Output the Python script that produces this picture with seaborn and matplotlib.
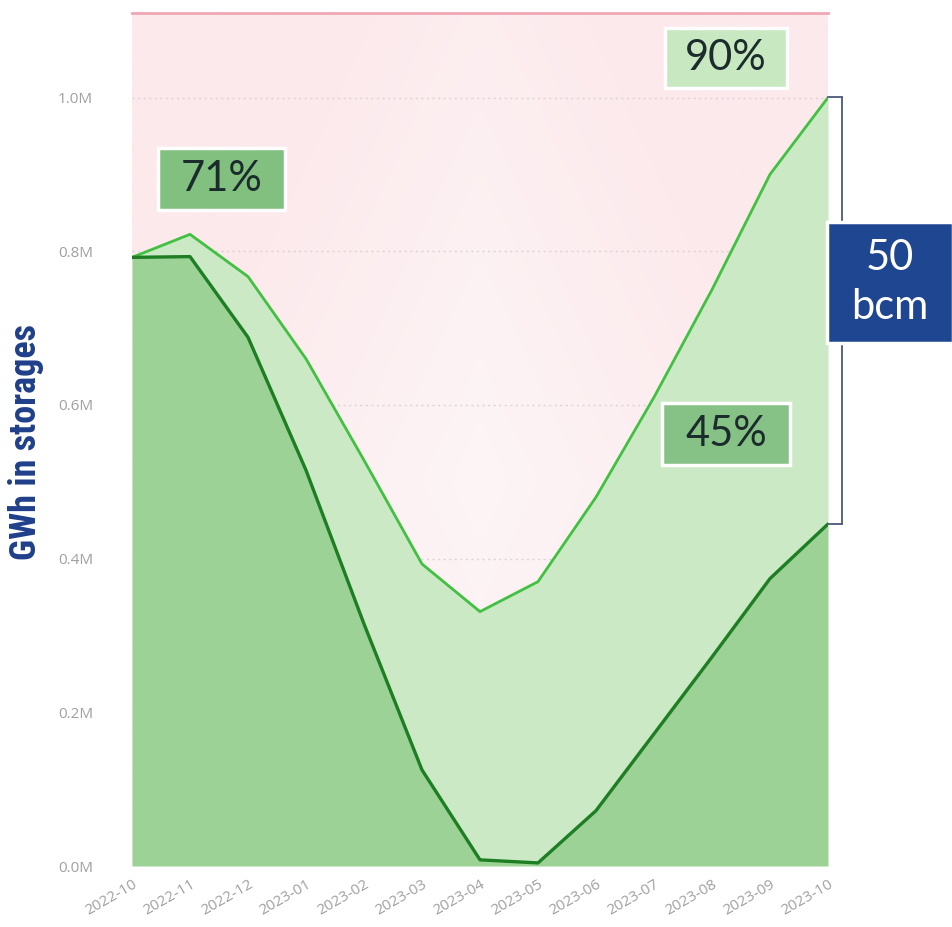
import numpy as np
import pandas as pd
import matplotlib
matplotlib.use("Agg")
import matplotlib.pyplot as plt
import seaborn as sns
from matplotlib.patches import Rectangle
from matplotlib.lines import Line2D
from matplotlib.ticker import FuncFormatter

# monthly storage levels (GWh)
months = ['2022-10', '2022-11', '2022-12', '2023-01', '2023-02', '2023-03', '2023-04',
          '2023-05', '2023-06', '2023-07', '2023-08', '2023-09', '2023-10']
upper_gwh = [792000, 822000, 767000, 660000, 528000, 393000, 331000,
             370000, 480000, 610000, 750000, 900000, 1000000]
lower_gwh = [792000, 793000, 688000, 515000, 315000, 125000, 8000,
             4000, 72000, 172000, 272000, 374000, 445000]

df = pd.DataFrame({'month': months, 'upper': upper_gwh, 'lower': lower_gwh})
df['pos'] = np.arange(len(df))

sns.set_style("white")
W, H = 953, 927
fig = plt.figure(figsize=(W / 100, H / 100), dpi=100)
ax = fig.add_axes([132 / W, 1 - 866 / H, (828 - 132) / W, (866 - 13) / H])
ymax = 1110000

# pink background with lighter diamond in the middle
gx, gy = np.meshgrid(np.linspace(0, 1, 300), np.linspace(0, 1, 300))
d = np.abs(gx - 0.5) * 1.6 + np.abs(gy - 0.55) * 0.9
t = np.clip(d / 0.8, 0, 1)
c_in = np.array([253, 245, 246]) / 255
c_out = np.array([252, 233, 236]) / 255
img = c_in[None, None, :] * (1 - t[..., None]) + c_out[None, None, :] * t[..., None]
ax.imshow(img, extent=[0, 12, 0, ymax], aspect='auto', origin='upper', zorder=0)

# grid
for v in [200000, 400000, 600000, 800000, 1000000]:
    ax.axhline(v, color='#d9d4d6', lw=1, ls=(0, (1.5, 2.5)), zorder=1)

# fills
ax.fill_between(df['pos'], df['lower'], df['upper'], color='#cbe9c5', zorder=2, lw=0)
ax.fill_between(df['pos'], 0, df['lower'], color='#9dd296', zorder=2, lw=0)

sns.lineplot(data=df, x='pos', y='upper', color='#42c042', lw=2.0, ax=ax, zorder=3)
sns.lineplot(data=df, x='pos', y='lower', color='#1e7e24', lw=2.4, ax=ax, zorder=3)

for s in ['left', 'right', 'bottom']:
    ax.spines[s].set_visible(False)
ax.spines['top'].set_color('#eea7b3')
ax.spines['top'].set_linewidth(2)

ax.set_xticks(df['pos'])
ax.set_xticklabels(months, rotation=30, ha='right', rotation_mode='anchor',
                   color='#a0a0a0', fontsize=11, family='Open Sans')
ax.set_yticks([0, 200000, 400000, 600000, 800000, 1000000])
ax.yaxis.set_major_formatter(FuncFormatter(lambda v, p: f"{v / 1e6:.1f}M"))
for lab in ax.get_yticklabels():
    lab.set_color('#a0a0a0')
    lab.set_fontsize(11)
    lab.set_family('Open Sans')
ax.tick_params(axis='y', length=0, pad=28)
ax.tick_params(axis='x', length=0, pad=8)
ax.set_xlim(0, 12)
ax.set_ylim(0, ymax)
ax.set_xlabel('')
ax.set_ylabel('')

fig.text(26 / W, 1 - 442 / H, 'GWh in storages', rotation=90, ha='center', va='center',
         color='#1f3f8a', fontsize=26, fontweight='bold',
         family=['Roboto Condensed', 'Open Sans Condensed', 'Liberation Sans Narrow', 'Lato'])


def box(x0, y0, x1, y1, fc, label, tc='#1c2b2b', fs=30):
    fig.patches.append(Rectangle((x0 / W, 1 - y1 / H), (x1 - x0) / W, (y1 - y0) / H,
                                 transform=fig.transFigure, facecolor=fc,
                                 edgecolor='white', lw=2.5, zorder=5))
    fig.text((x0 + x1) / 2 / W, 1 - (y0 + y1) / 2 / H, label, ha='center', va='center',
             color=tc, fontsize=fs, family='Lato', zorder=6, linespacing=1.35)


box(158, 148, 285, 210, '#82c080', '71%')
box(665, 28, 787, 88, '#c7e8c1', '90%')
box(662, 403, 790, 465, '#86c186', '45%')

# bracket for 50 bcm
bc = '#4b5878'
for seg in [((828, 842), (97, 97)), ((842, 842), (97, 524)), ((828, 842), (524, 524))]:
    fig.add_artist(Line2D([seg[0][0] / W, seg[0][1] / W],
                          [1 - seg[1][0] / H, 1 - seg[1][1] / H],
                          transform=fig.transFigure, color=bc, lw=1.3))
box(827, 222, 953, 343, '#1f4690', '50\nbcm', tc='white', fs=30)

fig.savefig('out.png', dpi=100, facecolor='white')
